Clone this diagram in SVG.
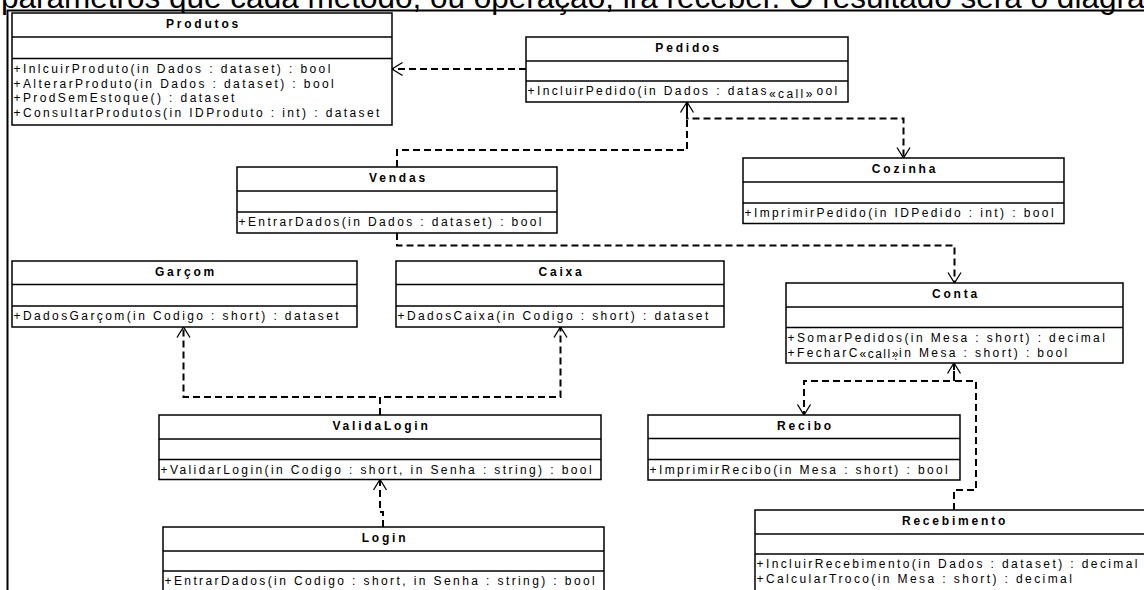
<svg xmlns="http://www.w3.org/2000/svg" width="1144" height="590" viewBox="0 0 1144 590">
  <style>
    .frame { fill: none; stroke: #000; stroke-width: 2; }
    .box rect { fill: #fff; stroke: #000; stroke-width: 1.5; }
    .box line { stroke: #000; stroke-width: 1.5; }
    .title { font-family: "Liberation Sans", Arial, sans-serif; font-size: 12px; font-weight: bold; letter-spacing: 2.8px; text-anchor: middle; fill: #000; }
    .op { font-family: "Liberation Sans", Arial, sans-serif; font-size: 12px; letter-spacing: 2.4px; fill: #000; }
    .stereo { font-family: "Liberation Sans", Arial, sans-serif; font-size: 12px; letter-spacing: 1.5px; fill: #000; }
    .dep { fill: none; stroke: #000; stroke-width: 2; stroke-dasharray: 7 4; marker-end: url(#open); }
    .lbl rect { fill: #fff; }
    .heading { font-family: "Liberation Sans", Arial, sans-serif; font-size: 31.5px; fill: #000; }
  </style>
  <defs>
    <marker id="open" markerUnits="userSpaceOnUse" markerWidth="14" markerHeight="16" viewBox="-12 -8 14 16" refX="0" refY="0" orient="auto" overflow="visible">
      <path d="M-10.5,-6.5 L0,0 L-10.5,6.5" fill="none" stroke="#000" stroke-width="1.3" stroke-dasharray="none"/>
    </marker>
  </defs>

  <rect width="1144" height="590" fill="#fff"/>

  <!-- running text of the page above the figure -->
  <text class="heading" x="1" y="8">parâmetros que cada método, ou operação, irá receber. O resultado será o diagra</text>

  <!-- figure border -->
  <path class="frame" d="M7.5,592 V10.5 H1146"/>

  <!-- dependencies -->
  <g id="connectors">
    <path class="dep" d="M526,69 H392"/>
    <path class="dep" d="M397,167 V150 H687 V102"/>
    <path class="dep" d="M687,102 V118.5 H903.5 V158"/>
    <path class="dep" d="M397,233 V245.5 H954.5 V283"/>
    <path class="dep" d="M380,415 V397 H183.5 V327"/>
    <path class="dep" d="M380,415 V397 H560.5 V327"/>
    <path class="dep" d="M383,527 V512 H380 V479.5"/>
    <path class="dep" d="M954,363 V381 H804 V415"/>
    <path class="dep" d="M954,510 V490 H976 V381 H954 V363"/>
  </g>

  <g id="produtos" class="box">
    <rect x="12" y="13" width="380" height="112"/>
    <line x1="12" y1="37" x2="392" y2="37"/>
    <line x1="12" y1="58.5" x2="392" y2="58.5"/>
    <text class="title" x="203.5" y="28">Produtos</text>
    <text class="op" x="13.5" y="73">+InlcuirProduto(in Dados : dataset) : bool</text>
    <text class="op" x="13.5" y="87.5">+AlterarProduto(in Dados : dataset) : bool</text>
    <text class="op" x="13.5" y="102">+ProdSemEstoque() : dataset</text>
    <text class="op" x="13.5" y="116.5">+ConsultarProdutos(in IDProduto : int) : dataset</text>
  </g>

  <g id="pedidos" class="box">
    <rect x="526" y="37" width="322" height="65"/>
    <line x1="526" y1="61" x2="848" y2="61"/>
    <line x1="526" y1="81" x2="848" y2="81"/>
    <text class="title" x="688.5" y="52">Pedidos</text>
    <text class="op" x="527.5" y="95">+IncluirPedido(in Dados : dataset) : bool</text>
  </g>

  <g id="vendas" class="box">
    <rect x="237" y="167" width="320" height="66"/>
    <line x1="237" y1="191" x2="557" y2="191"/>
    <line x1="237" y1="212" x2="557" y2="212"/>
    <text class="title" x="398.5" y="182">Vendas</text>
    <text class="op" x="238.5" y="226">+EntrarDados(in Dados : dataset) : bool</text>
  </g>

  <g id="cozinha" class="box">
    <rect x="743" y="158" width="321" height="65.5"/>
    <line x1="743" y1="182" x2="1064" y2="182"/>
    <line x1="743" y1="203" x2="1064" y2="203"/>
    <text class="title" x="905" y="173">Cozinha</text>
    <text class="op" x="744.5" y="217">+ImprimirPedido(in IDPedido : int) : bool</text>
  </g>

  <g id="garcom" class="box">
    <rect x="12" y="261" width="345" height="66"/>
    <line x1="12" y1="284.5" x2="357" y2="284.5"/>
    <line x1="12" y1="306" x2="357" y2="306"/>
    <text class="title" x="186" y="276">Garçom</text>
    <text class="op" x="13.5" y="320">+DadosGarçom(in Codigo : short) : dataset</text>
  </g>

  <g id="caixa" class="box">
    <rect x="396" y="261" width="328" height="66"/>
    <line x1="396" y1="284.5" x2="724" y2="284.5"/>
    <line x1="396" y1="306" x2="724" y2="306"/>
    <text class="title" x="561.5" y="276">Caixa</text>
    <text class="op" x="397.5" y="320">+DadosCaixa(in Codigo : short) : dataset</text>
  </g>

  <g id="conta" class="box">
    <rect x="786" y="283" width="337" height="80"/>
    <line x1="786" y1="307" x2="1123" y2="307"/>
    <line x1="786" y1="327.5" x2="1123" y2="327.5"/>
    <text class="title" x="956" y="298">Conta</text>
    <text class="op" x="787.5" y="342">+SomarPedidos(in Mesa : short) : decimal</text>
    <text class="op" x="787.5" y="356.5">+FecharConta(in Mesa : short) : bool</text>
  </g>

  <g id="validalogin" class="box">
    <rect x="159" y="415" width="442" height="64.5"/>
    <line x1="159" y1="439" x2="601" y2="439"/>
    <line x1="159" y1="459.5" x2="601" y2="459.5"/>
    <text class="title" x="381.5" y="430">ValidaLogin</text>
    <text class="op" x="160.5" y="473.5">+ValidarLogin(in Codigo : short, in Senha : string) : bool</text>
  </g>

  <g id="recibo" class="box">
    <rect x="648" y="415" width="312" height="65"/>
    <line x1="648" y1="438.5" x2="960" y2="438.5"/>
    <line x1="648" y1="459.5" x2="960" y2="459.5"/>
    <text class="title" x="805.5" y="430">Recibo</text>
    <text class="op" x="649.5" y="473.5">+ImprimirRecibo(in Mesa : short) : bool</text>
  </g>

  <g id="login" class="box">
    <rect x="163" y="527" width="441" height="80"/>
    <line x1="163" y1="551" x2="604" y2="551"/>
    <line x1="163" y1="571" x2="604" y2="571"/>
    <text class="title" x="385" y="542">Login</text>
    <text class="op" x="164.5" y="585">+EntrarDados(in Codigo : short, in Senha : string) : bool</text>
  </g>

  <g id="recebimento" class="box">
    <rect x="755" y="510" width="400" height="100"/>
    <line x1="755" y1="534" x2="1155" y2="534"/>
    <line x1="755" y1="554" x2="1155" y2="554"/>
    <text class="title" x="955" y="525">Recebimento</text>
    <text class="op" x="756.5" y="568">+IncluirRecebimento(in Dados : dataset) : decimal</text>
    <text class="op" x="756.5" y="582.5">+CalcularTroco(in Mesa : short) : decimal</text>
  </g>

  <!-- stereotype labels of the call dependencies -->
  <g id="call-labels" class="lbl">
    <g>
      <rect x="768.5" y="85" width="48" height="15"/>
      <text class="op" x="769" y="98">«call»</text>
    </g>
    <g>
      <rect x="859.5" y="345.5" width="39.5" height="13"/>
      <text class="stereo" x="859.5" y="357.5">«call»</text>
    </g>
  </g>
</svg>
